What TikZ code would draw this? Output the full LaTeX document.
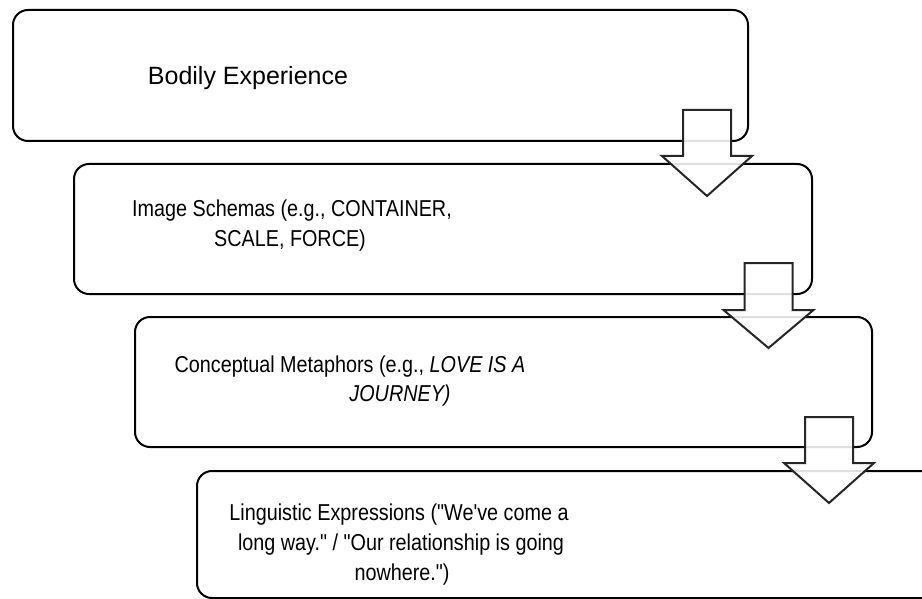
\documentclass[tikz,border=0pt]{standalone}
\usepackage{fontspec}
\setmainfont{Liberation Sans}
\newfontfamily\condfont[FakeStretch=0.86]{Liberation Sans}
\newcommand{\dq}{\symbol{34}}
\newcommand{\sq}{\symbol{39}}
\begin{document}
\begin{tikzpicture}[x=1pt,y=-1pt,
  stagebox/.style={draw=black, line width=2pt, rounded corners=15pt, minimum width=#1, inner sep=0pt, outer sep=0pt},
  label/.style={font=\condfont\fontsize{23}{29}\selectfont, inner sep=0pt, text=black},
  biglabel/.style={font=\fontsize{25}{29}\selectfont, inner sep=0pt, text=black},
  blockarrow/.style={draw=black!85, line width=2pt, fill=white, fill opacity=0.88, line join=miter}]
\useasboundingbox (0,0) rectangle (922,599);
\clip (0,0) rectangle (922,599);
\fill[white] (0,0) rectangle (922,599);
% boxes
\node[stagebox=735pt, minimum height=131pt] (b1) at (380.5,75.5) {};
\node[stagebox=738pt, minimum height=130pt] (b2) at (443,229) {};
\node[stagebox=737pt, minimum height=130pt] (b3) at (503.5,382) {};
\node[stagebox=763pt, minimum height=127pt] (b4) at (578.5,534.5) {};
% texts
\node[biglabel] (t1) at (248,78) {Bodily Experience};
\node[label] (t2a) at (292,211) {Image Schemas (e.g., CONTAINER,};
\node[label] (t2b) at (290,241) {SCALE, FORCE)};
\node[label] (t3a) at (350,367) {Conceptual Metaphors (e.g., \textit{LOVE IS A}};
\node[label] (t3b) at (400,396) {\textit{JOURNEY)}};
\node[label] (t4a) at (399,515) {Linguistic Expressions (\dq We\sq ve come a};
\node[label] (t4b) at (401,545) {long way.\dq{} / \dq Our relationship is going};
\node[label] (t4c) at (402,575) {nowhere.\dq)};
% block arrows
\newcommand{\blockdown}[4]{%
  \draw[blockarrow] (#1-24,#2) -- (#1+24,#2) -- (#1+24,#3) -- (#1+45,#3) -- (#1,#4) -- (#1-45,#3) -- (#1-24,#3) -- cycle;}
\blockdown{707}{110}{156}{196}
\blockdown{768.5}{263}{310}{348}
\blockdown{829}{417}{463}{503}
\end{tikzpicture}
\end{document}
